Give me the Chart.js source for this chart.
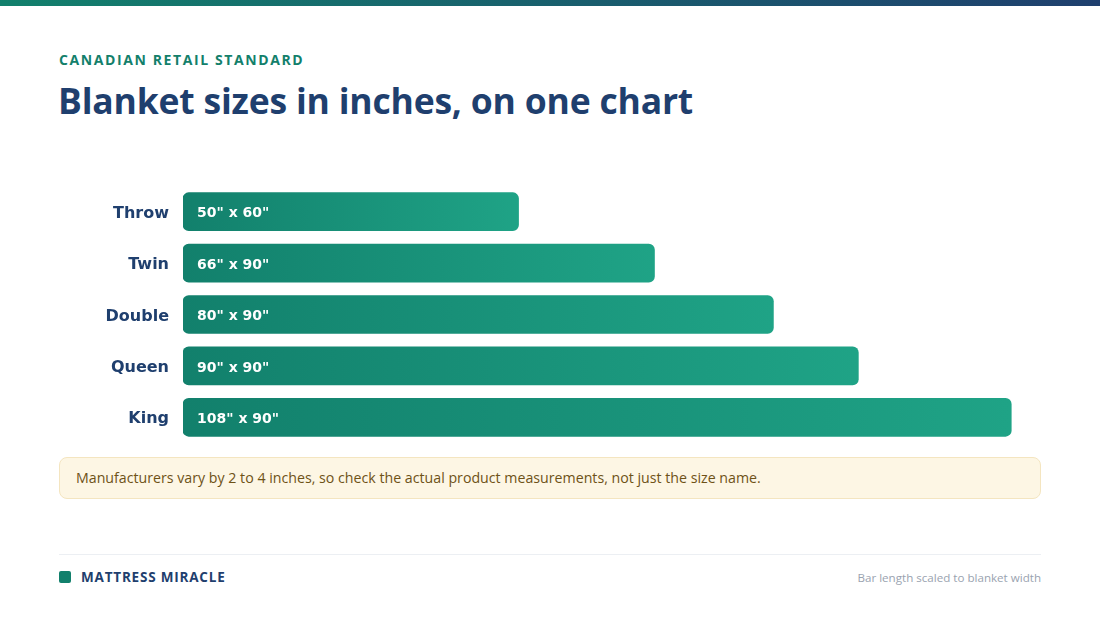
<!DOCTYPE html>
<html>
<head>
<meta charset="utf-8">
<script src="https://cdn.jsdelivr.net/npm/chart.js@4.4.1/dist/chart.umd.min.js"></script>
<style>
  body { margin: 0; width: 1100px; height: 619px; background: #fff; font-family: "Open Sans", sans-serif; position: relative; overflow: hidden; }
  .topbar { position: absolute; left: 0; top: 0; width: 1100px; height: 6px; background: linear-gradient(90deg, #12806c, #1f3f6e); }
  .kicker { position: absolute; left: 59px; top: 50px; font-size: 14px; font-weight: 700; letter-spacing: 1.6px; color: #13806b; }
  .title { position: absolute; left: 58px; top: 76px; font-size: 35.5px; font-weight: 700; color: #1f3f6e; letter-spacing: -0.2px; }
  #chart { position: absolute; left: 59px; top: 186px; }
  .note { position: absolute; left: 59px; top: 457px; width: 980px; height: 40px; box-sizing: content-box; background: #fdf6e4; border: 1px solid #f4e5c0; border-radius: 8px; }
  .note span { position: absolute; left: 16px; top: 10px; font-size: 14.2px; color: #6e5217; }
  .rule { position: absolute; left: 59px; top: 554px; width: 982px; height: 1px; background: #eceff3; }
  .dot { position: absolute; left: 59px; top: 571px; width: 12px; height: 12px; border-radius: 2px; background: #12806c; }
  .brand { position: absolute; left: 81px; top: 568px; font-size: 13.5px; font-weight: 700; letter-spacing: 0.8px; color: #1f3f6e; }
  .src { position: absolute; right: 59px; top: 570px; font-size: 11.6px; color: #9aa3b0; }
</style>
</head>
<body>
<div class="topbar"></div>
<div class="kicker">CANADIAN RETAIL STANDARD</div>
<div class="title">Blanket sizes in inches, on one chart</div>
<canvas id="chart" width="982" height="257"></canvas>
<div class="note"><span>Manufacturers vary by 2 to 4 inches, so check the actual product measurements, not just the size name.</span></div>
<div class="rule"></div>
<div class="dot"></div>
<div class="brand">MATTRESS MIRACLE</div>
<div class="src">Bar length scaled to blanket width</div>

<script>
// blanket sizes, width x length in inches
const sizes = ["Throw", "Twin", "Double", "Queen", "King"];
const widths = [50, 66, 80, 90, 108];
const lengths = [60, 90, 90, 90, 90];

const axisMin = 10.5;
const axisMax = 111.5;

// gradient per bar, dark teal on the left, lighter on the right
function barFill(c) {
  const chart = c.chart;
  const sx = chart.scales.x;
  if (!sx || c.dataIndex === undefined) return "#17917a";
  const x0 = sx.getPixelForValue(axisMin);
  const x1 = sx.getPixelForValue(widths[c.dataIndex]);
  if (!isFinite(x0) || !isFinite(x1)) return "#17917a";
  const g = chart.ctx.createLinearGradient(x0, 0, x1, 0);
  g.addColorStop(0, "#12806c");
  g.addColorStop(1, "#1fa386");
  return g;
}

// the "50" x 60"" text inside each bar
const barText = {
  id: "barText",
  afterDatasetsDraw(chart) {
    const ctx = chart.ctx;
    const meta = chart.getDatasetMeta(0);
    ctx.save();
    ctx.fillStyle = "#ffffff";
    ctx.font = "bold 14px 'DejaVu Sans'";
    ctx.textBaseline = "middle";
    meta.data.forEach((bar, i) => {
      ctx.fillText(widths[i] + '" x ' + lengths[i] + '"', bar.base + 14, bar.y + 2);
    });
    ctx.restore();
  }
};

let ctx = document.getElementById("chart").getContext("2d");
let myChart = new Chart(ctx, {
  type: "bar",
  data: {
    labels: sizes,
    datasets: [{
      data: widths,
      base: axisMin,
      backgroundColor: barFill,
      borderRadius: 6,
      borderSkipped: false,
      barThickness: 38
    }]
  },
  options: {
    indexAxis: "y",
    responsive: false,
    animation: false,
    layout: { padding: 0 },
    plugins: {
      legend: { display: false },
      tooltip: { enabled: false }
    },
    scales: {
      x: {
        display: false,
        min: axisMin,
        max: axisMax
      },
      y: {
        grid: { display: false, drawTicks: false },
        border: { display: false },
        afterFit(scale) {
          scale.width = 124;
          scale.paddingTop = 0;
          scale.paddingBottom = 0;
        },
        ticks: {
          padding: 14,
          labelOffset: 2,
          color: "#1f3f6e",
          font: { family: "'DejaVu Sans'", size: 16, weight: "bold" }
        }
      }
    }
  },
  plugins: [barText]
});
</script>
</body>
</html>
